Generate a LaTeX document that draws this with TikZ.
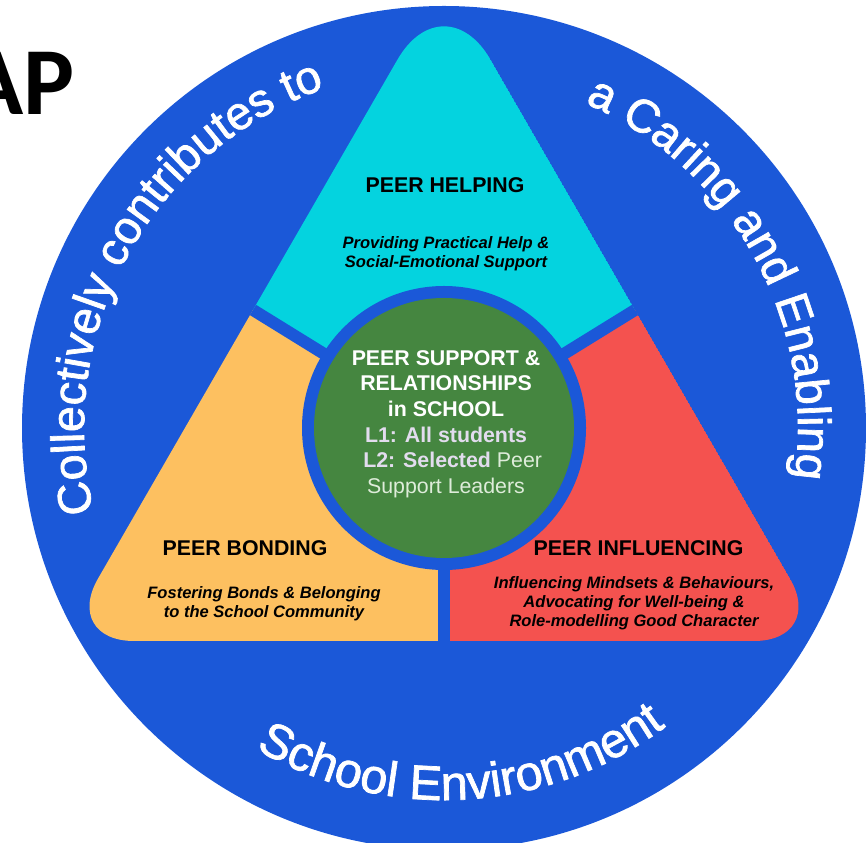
\documentclass[tikz,border=0pt]{standalone}
\usepackage{fontspec}
\setmainfont{Liberation Sans}
\newfontfamily\titlefont{Carlito}
\newfontfamily\ringface[FakeBold=1.5]{Liberation Sans}
\usetikzlibrary{decorations.text}

\definecolor{ringblue}{RGB}{27,88,216}
\definecolor{helpcyan}{RGB}{4,211,223}
\definecolor{bondyellow}{RGB}{253,192,96}
\definecolor{influred}{RGB}{244,82,79}
\definecolor{coregreen}{RGB}{69,134,64}
\definecolor{lavender}{RGB}{226,220,238}
\definecolor{palegreen}{RGB}{222,236,218}

\newcommand\ringfont{\color{white}\ringface\fontsize{35}{35}\selectfont}
\newcommand\ringfontbig{\color{white}\ringface\fontsize{36.5}{36.5}\selectfont}

\tikzset{heading/.style = {font=\fontsize{16}{19}\selectfont\bfseries, anchor=base, inner sep=0pt},
         subline/.style = {font=\fontsize{12.4}{14.4}\selectfont\bfseries\itshape, align=center, inner sep=0pt},
         coretext/.style = {font=\fontsize{16}{19.2}\selectfont\bfseries, align=center, inner sep=0pt, text=white},
         ringlabel/.style = {decorate, decoration={text along path, text align=center, text={|\ringfont|#1}}},
         ringlabelbig/.style = {decorate, decoration={text along path, text align=center, text={|\ringfontbig|#1}}},
         gap/.style = {draw=ringblue, line width=9pt}
        }

\begin{document}
\begin{tikzpicture}[x=0.75pt, y=0.75pt]
  \useasboundingbox (0,0) rectangle (866,842);
  \clip (0,0) rectangle (866,842);

  \coordinate (O) at (444,414);
  \coordinate (apex) at (444,863);
  \coordinate (bl) at (62,201);
  \coordinate (br) at (826,201);
  \coordinate (midL) at (253,532);
  \coordinate (midR) at (635,532);
  \coordinate (midB) at (444,201);

  \node[font=\titlefont\fontsize{72}{72}\selectfont\bfseries, anchor=base east, inner sep=0pt] (title) at (75,727) {AP};

  \fill[ringblue] (O) circle[radius=422];

  \begin{scope}
    \clip[rounded corners=54pt] (midB) -- (bl) -- (midL) [rounded corners=70pt] -- (apex) -- (midR) [rounded corners=54pt] -- (br) -- cycle;
    \fill[helpcyan] (O) -- (midL) -- (apex) -- (midR) -- cycle;
    \fill[bondyellow] (O) -- (midL) -- (bl) -- (midB) -- cycle;
    \fill[influred] (O) -- (midR) -- (br) -- (midB) -- cycle;
  \end{scope}
  \draw[gap] (O) -- (midL);
  \draw[gap] (O) -- (midR);
  \draw[gap] (O) -- (midB);

  \fill[ringblue] (O) circle[radius=142];
  \fill[coregreen] (O) circle[radius=130];

  \path[ringlabel={Collectively contributes to}] (O) ++(211.4:360) arc[start angle=211.4, end angle=91.4, radius=360];
  \path[ringlabel={a Caring and Enabling}] (O) ++(89.2:354) arc[start angle=89.2, end angle=-30.8, radius=354];
  \path[ringlabelbig={School Environment}] (O) ++(213.1:372) arc[start angle=213.1, end angle=333.1, radius=372];

  \node[heading] (helping) at (445,649) {PEER HELPING};
  \node[subline] (helpingtxt) at (446,588.5) {Providing Practical Help \&\\Social-Emotional Support};

  \node[heading] (bonding) at (245,286) {PEER BONDING};
  \node[subline] (bondingtxt) at (264,238) {Fostering Bonds \& Belonging\\to the School Community};

  \node[heading] (influencing) at (638.5,286) {PEER INFLUENCING};
  \node[subline] (influencingtxt) at (634,239) {Influencing Mindsets \& Behaviours,\\Advocating for Well-being \&\\Role-modelling Good Character};

  \node[coretext] (core) at (446,418) {PEER SUPPORT \&\\RELATIONSHIPS\\in SCHOOL\\{\color{lavender}L1: All students}\\{\hspace*{10pt}\color{lavender}L2: Selected} {\mdseries\color{palegreen}Peer}\\{\mdseries\color{palegreen}Support Leaders}};
\end{tikzpicture}
\end{document}
